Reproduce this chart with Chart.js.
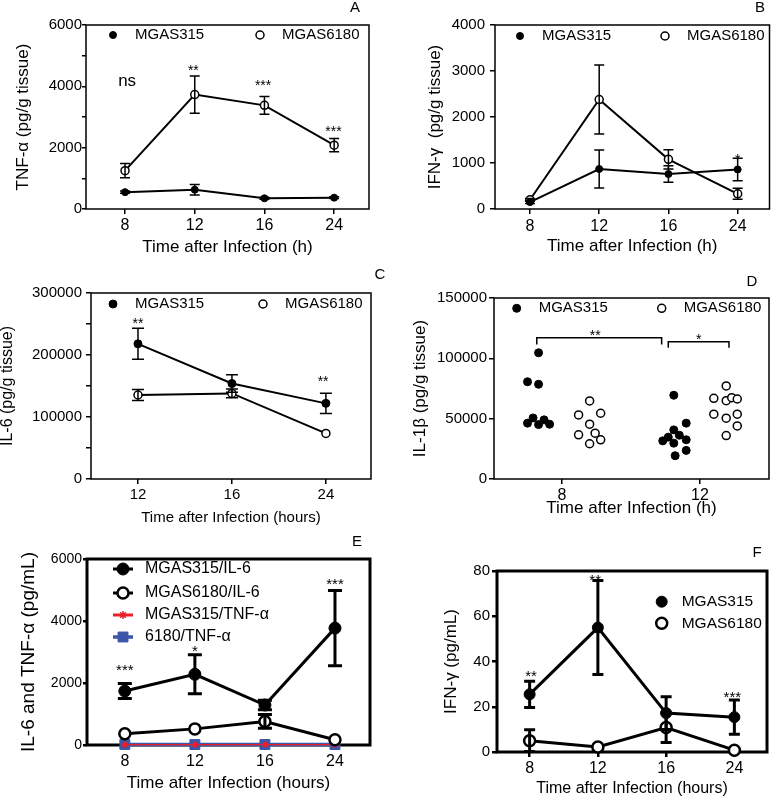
<!DOCTYPE html>
<html>
<head>
<meta charset="utf-8">
<script src="https://cdn.jsdelivr.net/npm/chart.js@4.4.0/dist/chart.umd.min.js"></script>
<style>
  body { margin: 0; background: #fff; }
  #fig { position: relative; width: 775px; height: 800px; overflow: hidden; }
  #fig canvas { position: absolute; }
</style>
</head>
<body>
<div id="fig">
  <canvas id="pA"></canvas>
  <canvas id="pB"></canvas>
  <canvas id="pC"></canvas>
  <canvas id="pD"></canvas>
  <canvas id="pE"></canvas>
  <canvas id="pF"></canvas>
</div>
<script>
// ---- données ----
const hours4 = ['8', '12', '16', '24'];
const hours3 = ['12', '16', '24'];
const hours2 = ['8', '12'];

// A : TNF-alpha dans le tissu
const tnfTissue315 = [550, 630, 350, 370];
const tnfTissue315Sem = [40, 170, 30, 30];
const tnfTissue6180 = [1250, 3730, 3380, 2080];
const tnfTissue6180Sem = [230, 610, 290, 215];

// B : IFN-gamma dans le tissu
const ifnTissue315 = [150, 870, 760, 860];
const ifnTissue315Sem = [30, 415, 180, 245];
const ifnTissue6180 = [200, 2380, 1080, 330];
const ifnTissue6180Sem = [30, 750, 210, 120];

// C : IL-6 dans le tissu
const il6Tissue315 = [218000, 154000, 122000];
const il6Tissue315Sem = [25000, 14000, 16500];
const il6Tissue6180 = [135500, 138000, 73500];
const il6Tissue6180Sem = [9000, 7000, 0];

// D : IL-1beta, points individuels (étalement horizontal dans la catégorie)
const il1b315At8 = [104600, 80600, 78500, 46300, 50600, 45100, 49000, 45400];
const il1b315At8Spread = [-0.17, -0.25, -0.17, -0.25, -0.21, -0.17, -0.13, -0.09];
const il1b6180At8 = [64700, 53100, 54500, 45400, 36600, 38000, 29200, 32500];
const il1b6180At8Spread = [0.2, 0.12, 0.28, 0.2, 0.12, 0.24, 0.2, 0.28];
const il1b315At12 = [69400, 46300, 40700, 36300, 34700, 31600, 32500, 29700, 23700, 19300];
const il1b315At12Spread = [-0.19, -0.1, -0.19, -0.15, -0.23, -0.27, -0.1, -0.19, -0.1, -0.18];
const il1b6180At12 = [77100, 66900, 64900, 67400, 66300, 53700, 50400, 53700, 44000, 36000];
const il1b6180At12Spread = [0.19, 0.1, 0.19, 0.23, 0.27, 0.1, 0.19, 0.27, 0.27, 0.19];

// E : IL-6 et TNF-alpha sériques
const il6Serum315 = [1740, 2280, 1290, 3770];
const il6Serum315Sem = [240, 630, 150, 1210];
const il6Serum6180 = [360, 520, 760, 170];
const il6Serum6180Sem = [0, 0, 220, 0];
const tnfSerum315 = [12, 10, 14, 9];
const tnfSerum6180 = [18, 15, 17, 14];

// F : IFN-gamma sérique
const ifnSerum315 = [25.5, 55, 17.2, 15.4];
const ifnSerum315Sem = [5.8, 20.8, 7.2, 7.6];
const ifnSerum6180 = [5, 2.2, 10.8, 0.8];
const ifnSerum6180Sem = [4.8, 0, 6.6, 0];

// ---- styles ----
const FONT = "'Liberation Sans', Arial, Helvetica, sans-serif";
Chart.defaults.font.family = FONT;
Chart.defaults.color = '#000';

function asPoints(vals, base, spread) {
  return vals.map((v, i) => ({ x: spread ? base + spread[i] : i, y: v }));
}

function solid(r, lw) {
  return {
    borderColor: '#000', borderWidth: lw, pointRadius: r, pointHoverRadius: r,
    pointBackgroundColor: '#000', pointBorderColor: '#000', pointBorderWidth: 1,
    pointStyle: 'circle', tension: 0, clip: false
  };
}
function hollow(r, lw, bw) {
  return Object.assign(solid(r, lw), { pointBackgroundColor: '#fff', pointBorderWidth: bw });
}

// ---- construction d'un panneau ----
function makePanel(p) {
  const cv = document.getElementById(p.id);
  const [bl, bt, bw, bh] = p.box;
  const [pl, pt, pr, pb] = p.plot;
  cv.width = bw; cv.height = bh;
  cv.style.left = bl + 'px'; cv.style.top = bt + 'px';
  cv.style.width = bw + 'px'; cv.style.height = bh + 'px';

  const overlay = {
    id: 'overlay',
    beforeDatasetsDraw(chart) {
      const { ctx, chartArea: a } = chart;
      ctx.save();
      ctx.strokeStyle = '#000';
      ctx.lineWidth = p.frameW;
      ctx.strokeRect(a.left, a.top, a.right - a.left, a.bottom - a.top);
      ctx.restore();
    },
    afterDatasetsDraw(chart) {
      const { ctx } = chart;
      const xs = chart.scales.x, ys = chart.scales.y;
      ctx.save();
      // barres d'erreur
      ctx.strokeStyle = '#000';
      ctx.lineWidth = p.errW;
      (p.errors || []).forEach(([di, sem]) => {
        chart.data.datasets[di].data.forEach((pt, i) => {
          if (!sem[i]) return;
          const x = xs.getPixelForValue(pt.x);
          const yt = ys.getPixelForValue(pt.y + sem[i]);
          const yb = ys.getPixelForValue(pt.y - sem[i]);
          ctx.beginPath();
          ctx.moveTo(x, yt); ctx.lineTo(x, yb);
          ctx.moveTo(x - p.cap, yt); ctx.lineTo(x + p.cap, yt);
          ctx.moveTo(x - p.cap, yb); ctx.lineTo(x + p.cap, yb);
          ctx.stroke();
        });
      });
      // crochets de comparaison
      ctx.lineWidth = 1.5;
      (p.brackets || []).forEach(b => {
        const x1 = xs.getPixelForValue(b.x1), x2 = xs.getPixelForValue(b.x2);
        const y = ys.getPixelForValue(b.y), yl = ys.getPixelForValue(b.leg);
        ctx.beginPath();
        ctx.moveTo(x1, yl); ctx.lineTo(x1, y); ctx.lineTo(x2, y); ctx.lineTo(x2, yl);
        ctx.stroke();
      });
      // étoiles / ns
      ctx.fillStyle = '#000';
      ctx.textAlign = 'center';
      ctx.textBaseline = 'alphabetic';
      (p.notes || []).forEach(n => {
        ctx.font = (n.size || p.noteSize) + 'px ' + FONT;
        ctx.fillText(n.t, xs.getPixelForValue(n.x), ys.getPixelForValue(n.y));
      });
      // légende dans le cadre
      const L = p.legend;
      ctx.textAlign = 'left';
      ctx.textBaseline = 'middle';
      ctx.font = L.size + 'px ' + FONT;
      L.items.forEach(it => {
        const ds = chart.data.datasets[it.ds];
        const mx = it.at[0] - bl, my = it.at[1] - bt;
        if (L.line) {
          ctx.strokeStyle = ds.borderColor;
          ctx.lineWidth = it.lw || ds.borderWidth;
          ctx.beginPath();
          ctx.moveTo(mx - L.line, my); ctx.lineTo(mx + L.line, my);
          ctx.stroke();
        }
        ctx.fillStyle = ds.pointBackgroundColor;
        ctx.strokeStyle = ds.pointBorderColor;
        ctx.lineWidth = ds.pointBorderWidth;
        Chart.helpers.drawPoint(ctx, {
          pointStyle: ds.pointStyle, radius: it.r || ds.pointRadius,
          borderWidth: ds.pointBorderWidth, rotation: 0
        }, mx, my);
        ctx.fillStyle = '#000';
        ctx.fillText(ds.label, mx + L.dx, my);
      });
      // lettre du panneau
      ctx.font = '15px ' + FONT;
      ctx.textAlign = 'center';
      ctx.fillText(p.letter, p.letterAt[0] - bl, p.letterAt[1] - bt);
      ctx.restore();
    }
  };

  return new Chart(cv, {
    type: 'line',
    data: { datasets: p.datasets },
    options: {
      responsive: false,
      animation: false,
      events: [],
      layout: { padding: { left: 0, top: pt - bt, right: bl + bw - pr, bottom: 0 } },
      plugins: { legend: { display: false }, tooltip: { enabled: false } },
      scales: {
        x: {
          type: 'linear', min: p.xMin, max: p.xMax,
          afterBuildTicks: s => { s.ticks = p.cats.map((c, i) => ({ value: i })); },
          afterFit: s => { s.height = bt + bh - pb; },
          ticks: {
            callback: v => p.cats[v] ?? '', autoSkip: false, maxRotation: 0,
            font: { size: p.xTick[0] }, padding: p.xTick[2], color: '#000'
          },
          grid: { drawOnChartArea: false, tickLength: p.xTick[1], color: '#000', lineWidth: p.tickW },
          border: { display: false },
          title: {
            display: true, text: p.xTitle, color: '#000',
            font: { size: p.xTitleSize }, padding: { top: 0, bottom: p.xTitlePad }
          }
        },
        y: {
          type: 'linear', min: 0, max: p.yMax,
          afterFit: s => { s.width = pl - bl; },
          ticks: {
            stepSize: p.yStep, autoSkip: false,
            callback: v => (v % p.yLabelStep === 0 ? String(v) : ''),
            font: { size: p.yTick[0] }, padding: p.yTick[2], color: '#000'
          },
          grid: { drawOnChartArea: false, tickLength: p.yTick[1], color: '#000', lineWidth: p.tickW },
          border: { display: false },
          title: {
            display: true, text: p.yTitle, color: '#000',
            font: { size: p.yTitleSize }, padding: { top: p.yTitlePad, bottom: 0 }
          }
        }
      }
    },
    plugins: [overlay]
  });
}

// GRAPHE A
makePanel({
  id: 'pA', box: [0, 0, 388, 262], plot: [86, 25, 369, 209],
  cats: hours4, xMin: -0.56, xMax: 3.5,
  yMax: 6000, yStep: 1000, yLabelStep: 2000,
  xTick: [16, 5, 2], yTick: [15, 4, 0],
  xTitle: 'Time after Infection (h)', xTitleSize: 17, xTitlePad: 4.8,
  yTitle: 'TNF-\u03B1 (pg/g tissue)', yTitleSize: 17, yTitlePad: 12.8,
  frameW: 1.5, tickW: 1.5, errW: 1.5, cap: 5,
  datasets: [
    Object.assign({ label: 'MGAS315', data: asPoints(tnfTissue315) }, solid(3.5, 2)),
    Object.assign({ label: 'MGAS6180', data: asPoints(tnfTissue6180) }, hollow(4, 2, 1.5))
  ],
  errors: [[0, tnfTissue315Sem], [1, tnfTissue6180Sem]],
  noteSize: 14,
  notes: [
    { t: 'ns', x: 0.03, y: 4010, size: 17 },
    { t: '**', x: 0.98, y: 4380 },
    { t: '***', x: 1.98, y: 3890 },
    { t: '***', x: 2.99, y: 2390 }
  ],
  legend: { size: 15, dx: 22, items: [{ ds: 0, at: [113, 35] }, { ds: 1, at: [260, 35] }] },
  letter: 'A', letterAt: [355, 8]
});

// GRAPHE B
makePanel({
  id: 'pB', box: [388, 0, 387, 262], plot: [495, 25, 770, 209],
  cats: hours4, xMin: -0.505, xMax: 3.46,
  yMax: 4000, yStep: 1000, yLabelStep: 1000,
  xTick: [16, 5, 3], yTick: [15, 5, 5],
  xTitle: 'Time after Infection (h)', xTitleSize: 17, xTitlePad: 5.1,
  yTitle: 'IFN-\u03B3  (pg/g tissue)', yTitleSize: 17, yTitlePad: 36.8,
  frameW: 1.5, tickW: 1.5, errW: 1.5, cap: 5,
  datasets: [
    Object.assign({ label: 'MGAS315', data: asPoints(ifnTissue315) }, solid(3.5, 2)),
    Object.assign({ label: 'MGAS6180', data: asPoints(ifnTissue6180) }, hollow(4, 2, 1.5))
  ],
  errors: [[0, ifnTissue315Sem], [1, ifnTissue6180Sem]],
  noteSize: 14,
  notes: [{ t: '*', x: 3, y: 978 }],
  legend: { size: 15, dx: 22, items: [{ ds: 0, at: [520, 36] }, { ds: 1, at: [665, 36] }] },
  letter: 'B', letterAt: [760, 8]
});

// GRAPHE C
makePanel({
  id: 'pC', box: [0, 262, 388, 268], plot: [91, 293, 371, 479],
  cats: hours3, xMin: -0.5, xMax: 2.48,
  yMax: 300000, yStep: 50000, yLabelStep: 100000,
  xTick: [15, 5, 2], yTick: [15, 5, 4],
  xTitle: 'Time after Infection (hours)', xTitleSize: 15, xTitlePad: 3,
  yTitle: 'IL-6 (pg/g tissue)', yTitleSize: 16, yTitlePad: -1.6,
  frameW: 1.5, tickW: 1.5, errW: 1.5, cap: 6,
  datasets: [
    Object.assign({ label: 'MGAS315', data: asPoints(il6Tissue315) }, solid(4, 2)),
    Object.assign({ label: 'MGAS6180', data: asPoints(il6Tissue6180) }, hollow(4, 2, 1.5))
  ],
  errors: [[0, il6Tissue315Sem], [1, il6Tissue6180Sem]],
  noteSize: 14,
  notes: [{ t: '**', x: 0, y: 243500 }, { t: '**', x: 1.97, y: 150000 }],
  legend: { size: 15, dx: 22, items: [{ ds: 0, at: [113, 304] }, { ds: 1, at: [263, 304] }] },
  letter: 'C', letterAt: [380, 275]
});

// GRAPHE D
makePanel({
  id: 'pD', box: [388, 262, 387, 268], plot: [494, 298, 769, 479],
  cats: hours2, xMin: -0.493, xMax: 1.5,
  yMax: 150000, yStep: 50000, yLabelStep: 50000,
  xTick: [16, 5, 2], yTick: [15, 5, 2],
  xTitle: 'Time after Infection (h)', xTitleSize: 17, xTitlePad: 11.5,
  yTitle: 'IL-1\u03B2 (pg/g tissue)', yTitleSize: 17, yTitlePad: 21.8,
  frameW: 1.5, tickW: 1.5, errW: 1.5, cap: 5,
  datasets: [
    Object.assign({ label: 'MGAS315', data: asPoints(il1b315At8, 0, il1b315At8Spread), showLine: false }, solid(4, 0)),
    Object.assign({ label: 'MGAS6180', data: asPoints(il1b6180At8, 0, il1b6180At8Spread), showLine: false }, hollow(4, 0, 1.5)),
    Object.assign({ label: 'MGAS315', data: asPoints(il1b315At12, 1, il1b315At12Spread), showLine: false }, solid(4, 0)),
    Object.assign({ label: 'MGAS6180', data: asPoints(il1b6180At12, 1, il1b6180At12Spread), showLine: false }, hollow(4, 0, 1.5))
  ],
  brackets: [
    { x1: -0.183, x2: 0.722, y: 117000, leg: 111500 },
    { x1: 0.77, x2: 1.21, y: 113700, leg: 108700 }
  ],
  noteSize: 14,
  notes: [{ t: '**', x: 0.24, y: 115000 }, { t: '*', x: 0.99, y: 111800 }],
  legend: { size: 15, dx: 22, items: [{ ds: 0, at: [516.7, 308.3] }, { ds: 1, at: [661.7, 308.3] }] },
  letter: 'D', letterAt: [752, 282]
});

// GRAPHE E
makePanel({
  id: 'pE', box: [0, 530, 388, 270], plot: [87, 559, 370, 745],
  cats: hours4, xMin: -0.54, xMax: 3.5,
  yMax: 6000, yStep: 2000, yLabelStep: 2000,
  xTick: [16, 5, 2], yTick: [14, 4, 1],
  xTitle: 'Time after Infection (hours)', xTitleSize: 17, xTitlePad: 6.5,
  yTitle: 'IL-6 and TNF-\u03B1 (pg/mL)', yTitleSize: 19, yTitlePad: 17.6,
  frameW: 3, tickW: 2.5, errW: 3, cap: 7,
  datasets: [
    Object.assign({ label: 'MGAS315/IL-6', data: asPoints(il6Serum315) }, solid(6, 3)),
    Object.assign({ label: 'MGAS6180/IL-6', data: asPoints(il6Serum6180) }, hollow(5.5, 3, 2.5)),
    Object.assign({ label: 'MGAS315/TNF-\u03B1', data: asPoints(tnfSerum315) }, solid(3, 1.2), {
      borderColor: '#e8202a', pointBackgroundColor: '#e8202a', pointBorderColor: '#e8202a',
      pointStyle: 'star', pointBorderWidth: 1.5
    }),
    Object.assign({ label: '6180/TNF-\u03B1', data: asPoints(tnfSerum6180) }, solid(7, 3.5), {
      borderColor: '#3d56a8', pointBackgroundColor: '#3d56a8', pointBorderColor: '#3d56a8',
      pointStyle: 'rect'
    })
  ],
  errors: [[0, il6Serum315Sem], [1, il6Serum6180Sem]],
  noteSize: 15,
  notes: [{ t: '***', x: 0, y: 2262 }, { t: '*', x: 1, y: 2860 }, { t: '***', x: 3, y: 5040 }],
  legend: {
    size: 16, dx: 22, line: 10,
    items: [
      { ds: 0, at: [123, 569] }, { ds: 1, at: [123, 593] },
      { ds: 2, at: [123, 615], r: 4, lw: 3 }, { ds: 3, at: [123, 637] }
    ]
  },
  letter: 'E', letterAt: [357, 542]
});

// GRAPHE F
makePanel({
  id: 'pF', box: [388, 530, 387, 270], plot: [497, 571, 770, 752],
  cats: hours4, xMin: -0.478, xMax: 3.478,
  yMax: 80, yStep: 20, yLabelStep: 20,
  xTick: [16, 5, 2], yTick: [15, 5, 2],
  xTitle: 'Time after Infection (hours)', xTitleSize: 16, xTitlePad: 2.1,
  yTitle: 'IFN-\u03B3 (pg/mL)', yTitleSize: 17, yTitlePad: 53.5,
  frameW: 3, tickW: 2.5, errW: 3, cap: 5.5,
  datasets: [
    Object.assign({ label: 'MGAS315', data: asPoints(ifnSerum315) }, solid(5.5, 3)),
    Object.assign({ label: 'MGAS6180', data: asPoints(ifnSerum6180) }, hollow(5.5, 3, 2.5))
  ],
  errors: [[0, ifnSerum315Sem], [1, ifnSerum6180Sem]],
  noteSize: 15,
  notes: [{ t: '**', x: 0.02, y: 31.5 }, { t: '**', x: 0.96, y: 73.8 }, { t: '***', x: 2.97, y: 22.1 }],
  legend: { size: 15.5, dx: 20, items: [{ ds: 0, at: [661.7, 601.7] }, { ds: 1, at: [661.7, 623.3] }] },
  letter: 'F', letterAt: [757, 553]
});
</script>
</body>
</html>
